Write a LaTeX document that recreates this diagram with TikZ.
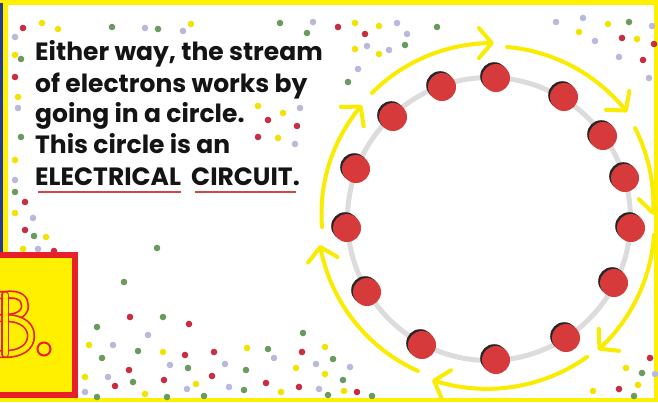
\documentclass[tikz,border=0pt]{standalone}
\usepackage{fontspec}
\setmainfont{Poppins}
\usetikzlibrary{arrows.meta,calc}
\definecolor{bordery}{RGB}{255,240,0}
\definecolor{arrowy}{RGB}{250,236,0}
\definecolor{borderblue}{RGB}{35,60,150}
\definecolor{elec}{RGB}{214,58,58}
\definecolor{ring}{RGB}{220,220,220}
\definecolor{boxred}{RGB}{232,32,42}
\definecolor{uline}{RGB}{208,70,70}
\definecolor{cfr}{RGB}{200,45,65}
\definecolor{cfg}{RGB}{105,155,95}
\definecolor{cfy}{RGB}{242,228,0}
\definecolor{cfl}{RGB}{185,185,222}
\tikzset{
  txt/.style={inner sep=0pt, anchor=base west, font=\fontsize{25}{30}\selectfont\bfseries, text=black!92},
  ulinestyle/.style={draw=uline, line width=2.4pt},
  flow/.style={draw=arrowy, line width=4pt, line cap=round,
    -{Straight Barb[length=13pt,width=30pt,round]}},
  electron/.style={circle, fill=elec, minimum size=28pt, inner sep=0pt},
  Bstroke/.style={draw=boxred, line width=1.7pt, double=bordery, double distance=5pt, line cap=round, line join=round}
}
\newcommand\flowarc[4]{%
  \draw[flow] plot[domain=#1:#2, samples=40, variable=\t]
    ({487+(#3+(#4-#3)*(\t-#1)/(#2-#1))*cos(\t)},
     {215+(#3+(#4-#3)*(\t-#1)/(#2-#1))*sin(\t)});}
\begin{document}
\begin{tikzpicture}[x=1pt,y=-1pt]
\useasboundingbox (0,0) rectangle (658,402);
% frame
\fill[bordery] (0,0) rectangle (658,402);
\fill[white] (8,5) rectangle (654,398);
\fill[borderblue] (0,3) rectangle (3,398);
% confetti
\foreach \p in {(23,28),(15,77),(268,120),(297,126),(258,137),(25,202),(25,230),(54,251),(115,386),(130,317),(189,324),(185,355),(214,352),(302,352),(129,370),(164,380),(212,376),(266,383),(299,387),(357,392),(338,27),(365,34),(622,38),(654,44),(643,60),(650,358),(619,389)}
  \fill[cfr] \p circle (3.3pt);
\foreach \p in {(112,27),(158,29),(280,23),(307,33),(21,59),(21,137),(15,192),(34,236),(157,248),(124,282),(163,317),(97,327),(102,358),(138,351),(268,349),(303,333),(188,368),(246,370),(133,382),(244,390),(167,397),(204,396),(328,395),(333,359),(343,380),(372,396),(437,27),(405,45),(348,82),(629,22),(642,373),(634,396),(97,397)}
  \fill[cfg] \p circle (3.3pt);
\foreach \p in {(42,23),(58,29),(191,24),(15,55),(18,97),(258,106),(283,113),(278,138),(15,160),(15,213),(46,237),(23,249),(89,345),(85,377),(163,352),(247,348),(325,347),(296,368),(196,384),(145,394),(281,392),(325,374),(344,391),(355,23),(379,26),(355,49),(379,54),(579,32),(608,24),(637,39),(626,368),(638,385),(593,391)}
  \fill[cfy] \p circle (3.3pt);
\foreach \p in {(145,28),(183,31),(313,22),(15,37),(18,108),(300,108),(295,144),(15,180),(33,218),(38,249),(113,345),(108,377),(85,392),(148,335),(274,358),(170,365),(225,364),(316,364),(187,389),(229,387),(319,389),(350,367),(397,23),(407,34),(367,46),(389,50),(358,69),(556,22),(583,18),(652,26),(595,41),(619,57),(649,78),(655,374)}
  \fill[cfl] \p circle (3.3pt);
% text
\node[txt] (l1) at (35,60) {Either way, the stream};
\node[txt] (l2) at (35,92) {of electrons works by};
\node[txt] (l3) at (35,122) {going in a circle.};
\node[txt] (l4) at (35,153) {This circle is an};
\node[txt] (l5a) at (35,185) {ELECTRICAL};
\node[txt] (l5b) at (191,185) {CIRCUIT.};
\draw[ulinestyle] ($(l5a.base west)+(3,7)$) -- ($(l5a.base east)+(0,7)$);
\draw[ulinestyle] ($(l5b.base west)+(4,7)$) -- ($(l5b.base east)+(-4,7)$);
% ring of electrons
\draw[ring, line width=5pt] (489,219) circle (141.5pt);
\foreach \p [count=\i] in {(496,78),(442,87),(393,117),(356,169),(347,228),(367,292),(422,345),(496,360),(566,338),(614,283),(631,228),(625,178),(603,136),(564,97)}{
  \fill[black!85, shift={(-1.8,-1.8)}] \p circle (14pt);
  \node[electron] (e\i) at \p {};
}
% flow arrows
\flowarc{-133.3}{-87.7}{167.7}{172.1}
\flowarc{-83.2}{-36.3}{169.2}{173.8}
\flowarc{-30.4}{0}{171.7}{166}
\flowarc{6.8}{50.6}{168.2}{174.8}
\flowarc{54.8}{108.4}{173.7}{173.9}
\flowarc{113.9}{169.8}{170.6}{169.7}
\flowarc{175.8}{221.3}{165.4}{166.5}
% B box
\draw[line width=6pt, draw=boxred, fill=bordery] (-10,255) rectangle (75,395);
\draw[Bstroke] (-6,295) -- (5,295) .. controls (20,293) and (25,299) .. (25,306) .. controls (25,314) and (16,318) .. (5,318) -- (-6,318);
\draw[Bstroke] (5,318) .. controls (24,318) and (31,327) .. (31,336) .. controls (31,347) and (21,354) .. (5,354) -- (-6,354);
\draw[Bstroke] (5,295) -- (5,354);
\draw[draw=boxred, line width=2pt] (44,349) circle (6.5pt);
\end{tikzpicture}
\end{document}
